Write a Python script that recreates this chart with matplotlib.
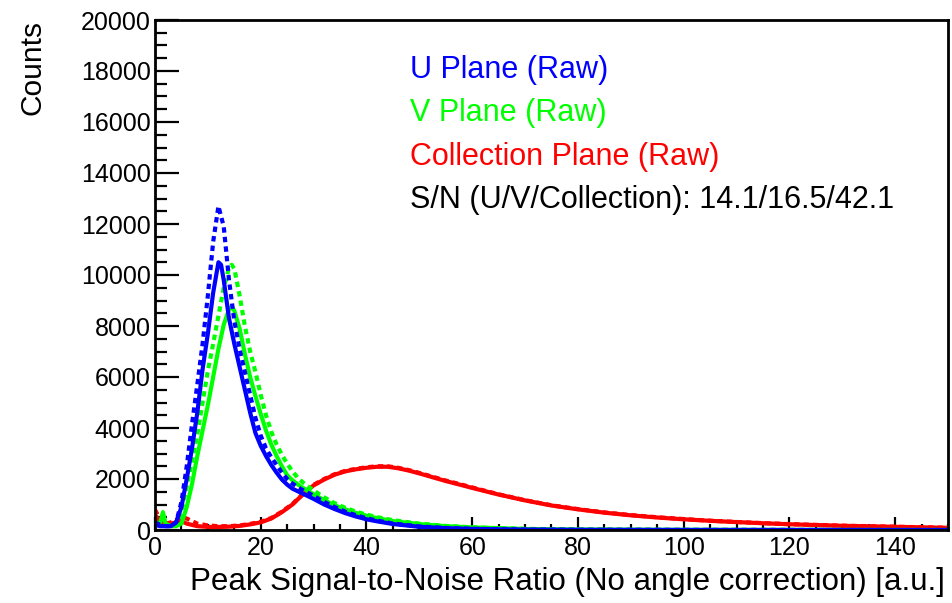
import matplotlib
matplotlib.use("Agg")
import matplotlib.pyplot as plt
from matplotlib.ticker import MultipleLocator

plt.rcParams['font.family'] = ['Liberation Sans', 'DejaVu Sans']

# ---- data ----
u_solid_x = [0, 1, 2, 3, 4, 5, 6, 7, 8, 9, 10, 11, 12, 12.5, 13, 14, 15, 16, 17, 18, 19, 20,
             21, 22, 23, 24, 25, 26, 27, 28, 29, 30, 32, 34, 36, 38, 40, 42, 45, 50, 55,
             60, 70, 80, 100, 150]
u_solid_y = [200, 150, 150, 150, 300, 900, 2000, 3200, 4600, 6300, 7700, 9300, 10500, 10400,
             9800, 8300, 7300, 6400, 5500, 4600, 3800, 3300, 2900, 2550, 2250, 1980, 1780,
             1620, 1520, 1420, 1320, 1220, 1000, 820, 660, 530, 420, 340, 235, 125, 72,
             42, 15, 8, 3, 0]

u_dash_x = [0, 1, 2, 3, 4, 5, 6, 7, 8, 9, 10, 11, 12, 13, 14, 15, 16, 17, 18, 19, 20,
            21, 22, 23, 24, 25, 26, 27, 28, 29, 30, 32, 34, 36, 38, 40, 42, 45, 50, 55,
            60, 70, 80, 100, 150]
u_dash_y = [300, 200, 150, 150, 300, 1100, 2500, 4150, 5700, 7300, 9200, 11300, 12700, 11900,
            9800, 8200, 7100, 6200, 5300, 4400, 3700, 3200, 2850, 2550, 2250, 2000, 1820,
            1680, 1560, 1450, 1340, 1100, 900, 720, 580, 460, 370, 255, 140, 80,
            46, 18, 8, 3, 0]

v_solid_x = [0, 1, 1.5, 2, 3, 4, 5, 6, 7, 8, 9, 10, 11, 12, 13, 14, 14.5, 15, 16, 17, 18,
             19, 20, 21, 22, 23, 24, 25, 26, 27, 28, 29, 30, 32, 34, 36, 38, 40, 42, 45,
             50, 55, 60, 70, 80, 100, 150]
v_solid_y = [200, 300, 700, 250, 150, 150, 250, 900, 1800, 2900, 3900, 4900, 6000, 7100, 8050,
             8650, 8760, 8600, 7900, 6900, 6000, 5250, 4550, 3900, 3350, 2900, 2500, 2150,
             1950, 1790, 1650, 1520, 1400, 1170, 970, 810, 670, 560, 465, 350,
             230, 150, 100, 40, 16, 5, 0]

v_dash_x = [0, 1, 2, 3, 4, 5, 6, 7, 8, 9, 10, 11, 12, 13, 14, 14.5, 15, 16, 17, 18, 19, 20,
            21, 22, 23, 24, 25, 26, 27, 28, 29, 30, 32, 34, 36, 38, 40, 42, 45, 50, 55,
            60, 70, 80, 100, 150]
v_dash_y = [300, 250, 200, 150, 200, 700, 1700, 2700, 3750, 5000, 6250, 7300, 8400, 9500,
            10300, 10400, 10250, 9200, 8000, 7000, 6200, 5300, 4500, 3850, 3350, 2950, 2600,
            2300, 2050, 1860, 1700, 1550, 1280, 1050, 870, 720, 605, 505, 385, 250, 160,
            105, 45, 20, 6, 0]

c_solid_x = [0, 1, 2, 3, 4, 5, 6, 7, 8, 10, 12, 14, 16, 18, 20, 22, 24, 26, 28, 30, 32, 34,
             36, 38, 40, 42, 44, 46, 48, 50, 52, 55, 58, 60, 65, 70, 75, 80, 85, 90, 95,
             100, 105, 110, 115, 120, 125, 130, 135, 140, 145, 150]
c_solid_y = [600, 300, 200, 250, 300, 350, 250, 200, 150, 120, 120, 130, 160, 220, 300, 450,
             700, 1000, 1400, 1750, 1980, 2170, 2300, 2380, 2440, 2480, 2480, 2420, 2330,
             2220, 2100, 1920, 1760, 1650, 1390, 1160, 960, 810, 680, 575, 490,
             420, 360, 310, 265, 225, 195, 165, 145, 125, 105, 85]

c_dash_x = [0, 1, 2, 3, 4, 5, 6, 7, 8, 10, 12, 14, 16, 18, 20, 22, 24, 26, 28, 30, 32, 34,
            36, 38, 40, 42, 44, 46, 48, 50, 52, 55, 58, 60, 65, 70, 75, 80, 85, 90, 95,
            100, 105, 110, 115, 120, 125, 130, 135, 140, 145, 150]
c_dash_y = [800, 400, 250, 300, 400, 500, 450, 350, 250, 180, 150, 150, 180, 240, 320, 470,
            720, 1020, 1420, 1770, 2000, 2190, 2320, 2400, 2460, 2500, 2500, 2440, 2350,
            2240, 2120, 1940, 1780, 1670, 1400, 1170, 970, 820, 690, 585, 500,
            430, 365, 315, 270, 230, 200, 170, 148, 128, 108, 88]

legend_lines = ["U Plane (Raw)", "V Plane (Raw)", "Collection Plane (Raw)",
                "S/N (U/V/Collection): 14.1/16.5/42.1"]
legend_colors = ["#0000ff", "#00ff00", "#ff0000", "black"]

BLUE, GREEN, RED = "#0000ff", "#00ff00", "#ff0000"

fig = plt.figure(figsize=(9.53, 6.03), dpi=100)
W, H = 953, 603
ax = fig.add_axes([155 / W, 1 - 530 / H, (948 - 155) / W, (530 - 20) / H])

dash = (0, (1.3, 1.0))
lw = 3.0
ax.plot(c_solid_x, c_solid_y, color=RED, lw=lw, solid_joinstyle='round')
ax.plot(c_dash_x, c_dash_y, color=RED, lw=lw, linestyle=dash)
ax.plot(v_solid_x, v_solid_y, color=GREEN, lw=lw, solid_joinstyle='round')
ax.plot(v_dash_x, v_dash_y, color=GREEN, lw=lw, linestyle=dash)
ax.plot(u_solid_x, u_solid_y, color=BLUE, lw=lw, solid_joinstyle='round')
ax.plot(u_dash_x, u_dash_y, color=BLUE, lw=lw, linestyle=dash)

ax.set_xlim(0, 150)
ax.set_ylim(0, 20000)
ax.xaxis.set_major_locator(MultipleLocator(20))
ax.xaxis.set_minor_locator(MultipleLocator(5))
ax.yaxis.set_major_locator(MultipleLocator(2000))
ax.yaxis.set_minor_locator(MultipleLocator(500))
ax.tick_params(axis='both', which='both', direction='in', top=False, right=False,
               width=1.6, labelsize=18)
ax.tick_params(axis='x', which='major', length=9.5, pad=4)
ax.tick_params(axis='x', which='minor', length=4.5)
ax.tick_params(axis='y', which='major', length=17, pad=3)
ax.tick_params(axis='y', which='minor', length=8.5)
for s in ax.spines.values():
    s.set_linewidth(2.0)

fig.text(945 / W, 1 - 582 / H, "Peak Signal-to-Noise Ratio (No angle correction) [a.u.]",
         ha='right', va='center', fontsize=22.5)
fig.text(33 / W, 1 - 20 / H, "Counts", rotation=90, ha='center', va='top', fontsize=21.5)

ys = [70, 113, 157, 200]
for t, c, y in zip(legend_lines, legend_colors, ys):
    fig.text(410 / W, 1 - y / H, t, color=c, ha='left', va='center', fontsize=22)

fig.savefig("out.png", dpi=100)
